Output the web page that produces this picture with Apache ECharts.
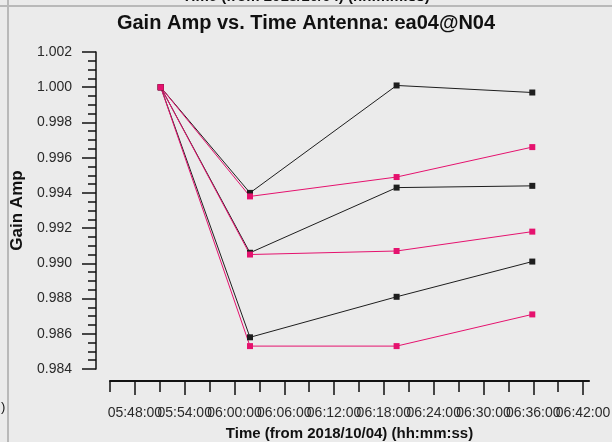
<!DOCTYPE html>
<html>
<head>
<meta charset="utf-8">
<script src="https://cdn.jsdelivr.net/npm/echarts@6/dist/echarts.min.js"></script>
<style>
html,body{margin:0;padding:0;background:#ebebeb;}
#chart{width:612px;height:442px;}
</style>
</head>
<body>
<div id="chart"></div>
<script>
// ---- data ----
var times = ['05:51:07', '06:01:52', '06:19:32', '06:35:53'];
var blackA = [1.0000, 0.9940, 1.0001, 0.9997];
var pinkA  = [1.0000, 0.9938, 0.9949, 0.9966];
var blackB = [1.0000, 0.9906, 0.9943, 0.9944];
var pinkB  = [1.0000, 0.9905, 0.9907, 0.9918];
var blackC = [1.0000, 0.9858, 0.9881, 0.9901];
var pinkC  = [1.0000, 0.9853, 0.9853, 0.9871];
var xMinorTickTimes = ['05:45:00','05:51:00','05:57:00','06:03:00','06:09:00','06:15:00','06:21:00','06:27:00','06:33:00','06:39:00'];
var xLabelTimes = ['05:48:00','05:54:00','06:00:00','06:06:00','06:12:00','06:18:00','06:24:00','06:30:00','06:36:00','06:42:00'];
var yMin = 0.984, yMax = 1.002, yStep = 0.002;

function toMin(t){ var p = t.split(':'); return (+p[0])*60 + (+p[1]) + (+p[2])/60; }
function fmt(m){
  var tot = Math.round(m*60);
  var h = Math.floor(tot/3600), mi = Math.floor((tot%3600)/60), s = tot%60;
  function z(n){ return (n<10?'0':'')+n; }
  return z(h)+':'+z(mi)+':'+z(s);
}
function pts(vals){ return vals.map(function(v,i){ return [toMin(times[i]), v]; }); }

var xMin = toMin('05:45:00'), xMax = toMin('06:42:43');
var labEven = xLabelTimes.filter(function(t,i){ return i%2===0; }).map(toMin);
var labOdd  = xLabelTimes.filter(function(t,i){ return i%2===1; }).map(toMin);
var BLACK = '#1e1e1e', PINK = '#e5126e';
var textCol = '#2a2a2a';
var AX = {color: '#111', width: 1.5};

function mk(name, vals, col){
  return {
    name: name, type: 'line', xAxisIndex: 0, yAxisIndex: 0,
    data: pts(vals), symbol: 'rect', symbolSize: 6,
    lineStyle: {color: col, width: 1}, itemStyle: {color: col},
    animation: false, z: 3
  };
}
function labelAxis(vals, withName){
  var a = {
    type: 'value', min: xMin, max: xMax, position: 'bottom', offset: 12,
    axisLine: {show: true, lineStyle: AX},
    axisTick: {show: true, inside: false, length: 14, interval: 0, lineStyle: AX, customValues: vals},
    axisLabel: {show: true, margin: 25, interval: 0, customValues: vals,
                formatter: function(v){ return fmt(v); },
                fontFamily: 'Liberation Sans', fontSize: 14, color: textCol, hideOverlap: false},
    splitLine: {show: false}
  };
  if (withName) {
    a.name = 'Time (from 2018/10/04) (hh:mm:ss)';
    a.nameLocation = 'middle'; a.nameGap = 45;
    a.nameTextStyle = {fontFamily: 'Liberation Sans', fontSize: 15, fontWeight: 'bold', color: '#111'};
  }
  return a;
}

var chart = echarts.init(document.getElementById('chart'));
chart.setOption({
  backgroundColor: '#ebebeb',
  animation: false,
  title: {
    text: 'Gain Amp vs. Time Antenna: ea04@N04',
    left: 'center', top: 8,
    textStyle: {fontFamily: 'Liberation Sans', fontSize: 20, fontWeight: 'bold', color: '#111'}
  },
  grid: {left: 110, right: 23, top: 52, bottom: 73, containLabel: false, outerBoundsMode: 'none'},
  xAxis: [
    {
      type: 'value', min: xMin, max: xMax, position: 'bottom', offset: 12,
      axisLine: {show: true, lineStyle: AX},
      axisTick: {show: true, inside: false, length: 11, interval: 0, lineStyle: AX,
                 customValues: xMinorTickTimes.map(toMin)},
      axisLabel: {show: false},
      splitLine: {show: false}
    },
    labelAxis(labEven, true),
    labelAxis(labOdd, false)
  ],
  yAxis: {
    type: 'value', min: yMin, max: yMax, interval: yStep, offset: 14,
    axisLine: {show: true, lineStyle: AX},
    axisTick: {show: true, inside: false, length: 14, lineStyle: AX},
    minorTick: {show: true, splitNumber: 4, length: 8, lineStyle: AX},
    axisLabel: {margin: 24, formatter: function(v){ return v.toFixed(3); },
                showMinLabel: true, showMaxLabel: true,
                fontFamily: 'Liberation Sans', fontSize: 14, color: textCol},
    splitLine: {show: false},
    name: 'Gain Amp', nameLocation: 'middle', nameGap: 65,
    nameTextStyle: {fontFamily: 'Liberation Sans', fontSize: 17, fontWeight: 'bold', color: '#111'}
  },
  graphic: [
    {type: 'line', shape: {x1: 0, y1: 6, x2: 612, y2: 6}, style: {stroke: '#b9b9b9', lineWidth: 2}, silent: true},
    {type: 'line', shape: {x1: 8, y1: 0, x2: 8, y2: 442}, style: {stroke: '#b9b9b9', lineWidth: 2}, silent: true},
    {type: 'text', left: 'center', top: -11, style: {text: 'Time (from 2018/10/04) (hh:mm:ss)', font: 'bold 15px "Liberation Sans"', fill: '#111'}, silent: true},
    {type: 'text', left: 1, top: 401, style: {text: ')', font: '13px "Liberation Sans"', fill: '#111'}, silent: true}
  ],
  series: [
    mk('Black 1', blackA, BLACK),
    mk('Pink 1', pinkA, PINK),
    mk('Black 2', blackB, BLACK),
    mk('Pink 2', pinkB, PINK),
    mk('Black 3', blackC, BLACK),
    mk('Pink 3', pinkC, PINK)
  ]
});
</script>
</body>
</html>
